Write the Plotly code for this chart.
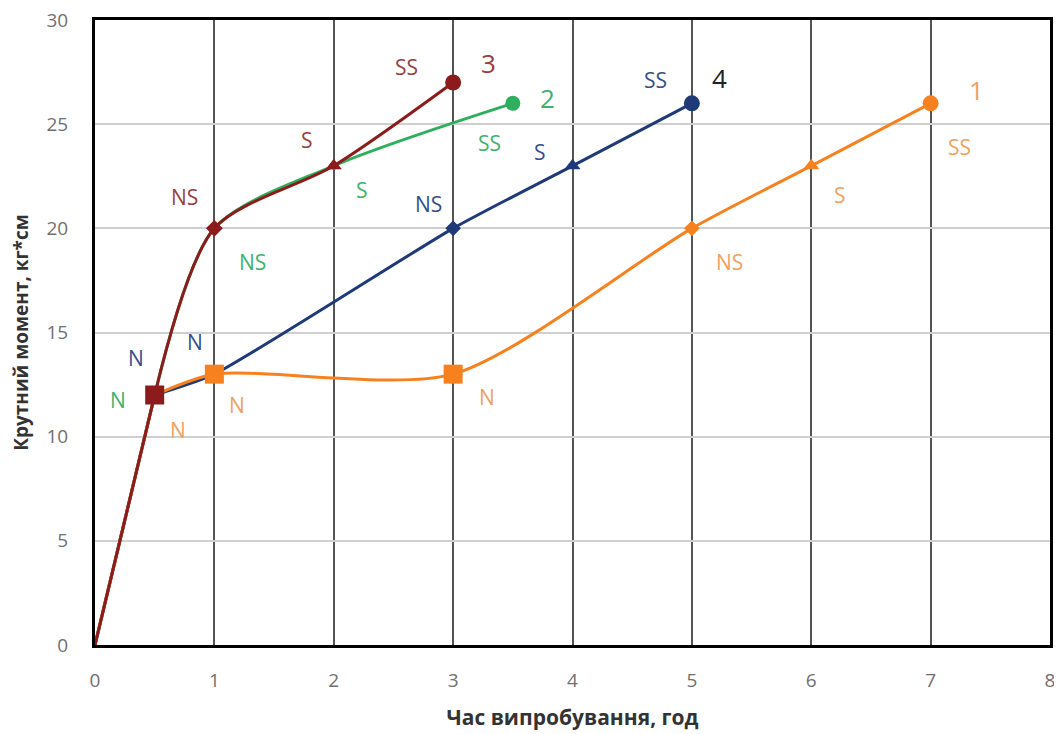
import plotly.graph_objects as go

# ---- data ----
x1 = [0, 0.5, 1, 3, 5, 6, 7]
y1 = [0, 12, 13, 13, 20, 23, 26]
x2 = [0, 0.5, 1, 2, 3.5]
y2 = [0, 12, 20, 23, 26]
x3 = [0, 0.5, 1, 2, 3]
y3 = [0, 12, 20, 23, 27]
x4 = [0, 0.5, 1, 3, 4, 5]
y4 = [0, 12, 13, 20, 23, 26]

labels1 = ["", "N", "N", "N", "NS", "S", "SS"]
labels2 = ["", "N", "NS", "S", "SS"]
labels3 = ["", "", "NS", "S", "SS"]
labels4 = ["", "N", "N", "NS", "S", "SS"]
series_names = ["1", "2", "3", "4"]

x_ticks = [0, 1, 2, 3, 4, 5, 6, 7, 8]
y_ticks = [0, 5, 10, 15, 20, 25, 30]

# ---- styles ----
C1, C2, C3, C4 = "#F7811E", "#2EAF5E", "#8E1B1B", "#1F3A78"
L1, L2, L3, L4 = "#F2A060", "#3DB36D", "#9A3E3E", "#34508A"

fig = go.Figure()

def add(x, y, color, symbols, sizes, smoothing):
    # initial loading segment (straight)
    fig.add_trace(go.Scatter(
        x=x[:2], y=y[:2], mode="lines",
        line=dict(color=color, width=3),
        showlegend=False, hoverinfo="skip"))
    # smoothed remainder
    fig.add_trace(go.Scatter(
        x=x[1:], y=y[1:], mode="lines+markers",
        line=dict(color=color, width=3, shape="spline", smoothing=smoothing),
        marker=dict(color=color, symbol=symbols[1:], size=sizes[1:], opacity=1, line=dict(width=0)),
        showlegend=False, hoverinfo="skip"))

add(x2, y2, C2, ["circle"] * 5, [0, 10, 8, 8, 15], 0.8)
add(x4, y4, C4, ["circle", "square", "square", "diamond", "triangle-up", "circle"],
    [0, 8, 8, 12, 14, 16], 0.55)
add(x1, y1, C1, ["circle", "square", "square", "square", "diamond", "triangle-up", "circle"],
    [0, 16, 19, 19, 12, 14, 16], 0.75)
add(x3, y3, C3, ["circle", "square", "diamond", "triangle-up", "circle"],
    [0, 19, 13, 14, 16], 0.8)

# label offsets (pixels) relative to each point
off1 = [None, (23, -35), (23, -31), (34, -23), (38, -34), (29, -29), (29, -44)]
off2 = [None, (-37, -5), (38, -34), (28, -24), (-23, -40)]
off3 = [None, None, (-30, 31), (-27, 26), (-47, 16)]
off4 = [None, (-19, 37), (-19, 32), (-25, 24), (-33, 14), (-36, 23)]

def labels(x, y, texts, offs, color):
    for xi, yi, t, o in zip(x, y, texts, offs):
        if t and o:
            fig.add_annotation(x=xi, y=yi, text=t, showarrow=False,
                               xshift=o[0], yshift=o[1],
                               font=dict(size=21, color=color, family="Open Sans"))

labels(x1, y1, labels1, off1, L1)
labels(x2, y2, labels2, off2, L2)
labels(x3, y3, labels3, off3, L3)
labels(x4, y4, labels4, off4, L4)

# series numbers at end points
ends = [(x1[-1], y1[-1], (46, 13), L1), (x2[-1], y2[-1], (35, 5), L2),
        (x3[-1], y3[-1], (35, 20), L3), (x4[-1], y4[-1], (28, 25), "#222222")]
for name, (xe, ye, o, col) in zip(series_names, ends):
    fig.add_annotation(x=xe, y=ye, text=name, showarrow=False, xshift=o[0], yshift=o[1],
                       font=dict(size=26, color=col, family="Open Sans"))

fig.update_layout(
    width=1054, height=726,
    margin=dict(l=87, r=12, t=12, b=89),
    paper_bgcolor="white", plot_bgcolor="white",
    font=dict(family="Open Sans", color="#595959"),
    xaxis=dict(range=[0, 8], tickvals=x_ticks, showgrid=True, gridcolor="#555555", gridwidth=1.5,
               showline=True, linecolor="black", linewidth=3, mirror=True, zeroline=False,
               automargin=False, ticklabeloverflow="allow",
               tickfont=dict(size=19, color="#707070"), ticklabelstandoff=16,
               title=dict(text="<b>Час випробування, год</b>", font=dict(size=21, color="#333333"),
                          standoff=19)),
    yaxis=dict(range=[0, 30], tickvals=y_ticks, showgrid=True, gridcolor="#D0D0D0", gridwidth=1.5,
               showline=True, linecolor="black", linewidth=3, mirror=True, zeroline=False,
               automargin=False, ticklabeloverflow="allow",
               tickfont=dict(size=19, color="#707070"), ticklabelstandoff=20,
               title=dict(text="<b>Крутний момент, кг*см</b>", font=dict(size=19, color="#333333"),
                          standoff=16)),
)

fig.write_html("out.html")
